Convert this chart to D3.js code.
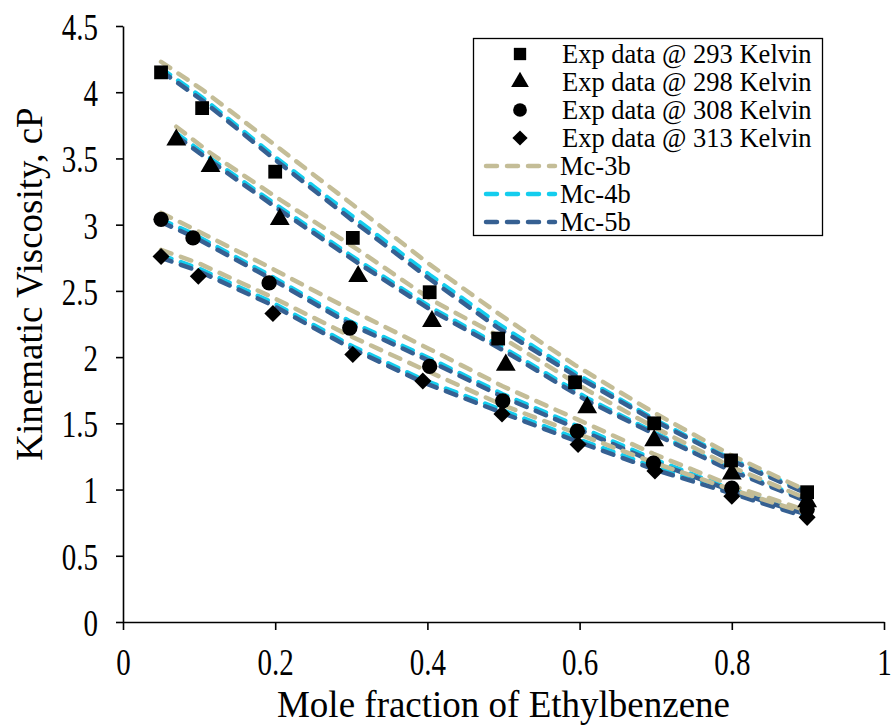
<!DOCTYPE html>
<html>
<head>
<meta charset="utf-8">
<script src="https://d3js.org/d3.v7.min.js"></script>
<style>
	body { margin: 0; background: #fff; }
	text { font-family: "Liberation Serif", "Times New Roman", serif; fill: #000; }
</style>
</head>
<body>
<script>
//wrap everything in a self-executing anonymous function to keep it local
(function(){

	//mole fraction of ethylbenzene for each temperature set
	var x293 = [0.05, 0.104, 0.2, 0.302, 0.403, 0.493, 0.594, 0.698, 0.799, 0.899];
	var x298 = [0.07, 0.115, 0.206, 0.309, 0.406, 0.503, 0.61, 0.698, 0.8, 0.899];
	var x308 = [0.05, 0.092, 0.192, 0.298, 0.403, 0.499, 0.597, 0.697, 0.8, 0.899];
	var x313 = [0.05, 0.099, 0.197, 0.302, 0.394, 0.498, 0.598, 0.699, 0.8, 0.899];

	//experimental viscosities, cP
	var exp293 = [4.15, 3.88, 3.40, 2.90, 2.49, 2.14, 1.81, 1.50, 1.22, 0.98];
	var exp298 = [3.64, 3.44, 3.04, 2.61, 2.27, 1.94, 1.62, 1.37, 1.12, 0.91];
	var exp308 = [3.04, 2.90, 2.56, 2.22, 1.93, 1.67, 1.44, 1.20, 1.01, 0.85];
	var exp313 = [2.76, 2.61, 2.33, 2.02, 1.82, 1.57, 1.34, 1.14, 0.95, 0.79];

	//model predictions, Mc-3b
	var mc3b293 = [4.23, 4.02, 3.60, 3.15, 2.70, 2.33, 1.94, 1.58, 1.26, 0.99];
	var mc3b298 = [3.74, 3.54, 3.19, 2.81, 2.43, 2.13, 1.75, 1.47, 1.17, 0.93];
	var mc3b308 = [3.09, 2.97, 2.68, 2.36, 2.06, 1.78, 1.53, 1.27, 1.03, 0.84];
	var mc3b313 = [2.81, 2.71, 2.45, 2.15, 1.91, 1.64, 1.42, 1.20, 1.00, 0.82];

	//model predictions, Mc-4b
	var mc4b293 = [4.18, 3.96, 3.51, 3.06, 2.62, 2.25, 1.88, 1.53, 1.23, 0.98];
	var mc4b298 = [3.69, 3.50, 3.13, 2.73, 2.37, 2.06, 1.69, 1.43, 1.15, 0.92];
	var mc4b308 = [3.04, 2.93, 2.62, 2.27, 1.99, 1.72, 1.48, 1.23, 1.00, 0.82];
	var mc4b313 = [2.77, 2.67, 2.41, 2.08, 1.83, 1.60, 1.38, 1.17, 0.98, 0.80];

	//model predictions, Mc-5b
	var mc5b293 = [4.16, 3.94, 3.49, 3.03, 2.59, 2.22, 1.86, 1.52, 1.22, 0.97];
	var mc5b298 = [3.67, 3.48, 3.11, 2.71, 2.35, 2.04, 1.67, 1.42, 1.14, 0.91];
	var mc5b308 = [3.02, 2.91, 2.60, 2.25, 1.97, 1.70, 1.46, 1.21, 0.99, 0.81];
	var mc5b313 = [2.75, 2.65, 2.39, 2.06, 1.81, 1.58, 1.36, 1.15, 0.97, 0.79];

	//axis ticks
	var xTicks = [0, 0.2, 0.4, 0.6, 0.8, 1];
	var yTicks = [0, 0.5, 1, 1.5, 2, 2.5, 3, 3.5, 4, 4.5];

	//legend labels
	var expLabels = ["Exp data @ 293 Kelvin", "Exp data @ 298 Kelvin", "Exp data @ 308 Kelvin", "Exp data @ 313 Kelvin"];
	var modelLabels = ["Mc-3b", "Mc-4b", "Mc-5b"];
	var modelColors = ["#c4bd97", "#14cdee", "#366092"];
	//diamond is a square turned 45 degrees
	var symbols = [d3.symbolSquare, d3.symbolTriangle, d3.symbolCircle, d3.symbolSquare];
	var symTurn = [0, 0, 0, 45];
	var symSizes = [190, 170, 185, 145];

	var width = 891,
		height = 727;

	var svg = d3.select("body")
		.append("svg")
		.attr("width", width)
		.attr("height", height);

	var x = d3.scaleLinear().domain([0, 1]).range([123, 884]);
	var y = d3.scaleLinear().domain([0, 4.5]).range([622, 26]);

	//axes
	var xAxis = svg.append("g")
		.attr("transform", "translate(0," + y(0) + ")")
		.call(d3.axisBottom(x).tickValues(xTicks).tickSize(8).tickSizeOuter(0).tickFormat(d3.format("")));
	var yAxis = svg.append("g")
		.attr("transform", "translate(" + x(0) + ",0)")
		.call(d3.axisLeft(y).tickValues(yTicks).tickSize(7).tickSizeOuter(0).tickFormat(d3.format("")));

	svg.selectAll(".domain, .tick line").attr("stroke", "#000").attr("stroke-width", 1.6);

	//tick labels in the reference look vertically stretched
	xAxis.selectAll("text")
		.attr("font-size", 29)
		.attr("font-family", "Liberation Serif")
		.attr("y", 0)
		.attr("dy", "0.35em")
		.attr("transform", "translate(0,40) scale(1,1.32)");
	yAxis.selectAll("text")
		.attr("font-size", 29)
		.attr("font-family", "Liberation Serif")
		.attr("x", 0)
		.attr("dy", "0.35em")
		.attr("transform", "translate(-25,0) scale(1,1.32)");

	//axis titles
	svg.append("text")
		.attr("x", (x(0) + x(1)) / 2)
		.attr("y", 717)
		.attr("text-anchor", "middle")
		.attr("font-size", 37)
		.text("Mole fraction of Ethylbenzene");
	svg.append("text")
		.attr("transform", "translate(42,284) rotate(-90)")
		.attr("text-anchor", "middle")
		.attr("font-size", 37)
		.text("Kinematic Viscosity, cP");

	//model curves
	var groups = [
		{xs: x293, models: [mc3b293, mc4b293, mc5b293]},
		{xs: x298, models: [mc3b298, mc4b298, mc5b298]},
		{xs: x308, models: [mc3b308, mc4b308, mc5b308]},
		{xs: x313, models: [mc3b313, mc4b313, mc5b313]}
	];

	var line = d3.line()
		.x(function(d){ return x(d[0]); })
		.y(function(d){ return y(d[1]); });

	//draw order: cyan, dark blue, tan
	[1, 2, 0].forEach(function(m){
		groups.forEach(function(g){
			svg.append("path")
				.datum(d3.zip(g.xs, g.models[m]))
				.attr("d", line)
				.attr("fill", "none")
				.attr("stroke", modelColors[m])
				.attr("stroke-width", 4.5)
				.attr("stroke-linecap", "round")
				.attr("stroke-dasharray", "11,10");
		});
	});

	//experimental markers
	var expSets = [[x293, exp293], [x298, exp298], [x308, exp308], [x313, exp313]];
	expSets.forEach(function(s, i){
		svg.selectAll(".m" + i)
			.data(d3.zip(s[0], s[1]))
			.enter()
			.append("path")
			.attr("class", "m" + i)
			.attr("d", d3.symbol().type(symbols[i]).size(symSizes[i]))
			.attr("transform", function(d){
				return "translate(" + x(d[0]) + "," + y(d[1]) + ") rotate(" + symTurn[i] + ")";
			})
			.attr("fill", "#000");
	});

	//legend
	var legend = svg.append("g");
	legend.append("rect")
		.attr("x", 473.5).attr("y", 38.5)
		.attr("width", 349).attr("height", 197)
		.attr("fill", "#fff")
		.attr("stroke", "#000")
		.attr("stroke-width", 1.3);

	var rowY = d3.scaleLinear().domain([0, 6]).range([54, 222]);

	expLabels.forEach(function(t, i){
		legend.append("path")
			.attr("d", d3.symbol().type(symbols[i]).size(symSizes[i] * 0.8))
			.attr("transform", "translate(520," + rowY(i) + ") rotate(" + symTurn[i] + ")")
			.attr("fill", "#000");
		legend.append("text")
			.attr("x", 562).attr("y", rowY(i))
			.attr("dy", "0.35em")
			.attr("font-size", 26.5)
			.text(t);
	});
	modelLabels.forEach(function(t, i){
		legend.append("line")
			.attr("x1", 486).attr("x2", 555)
			.attr("y1", rowY(i + 4)).attr("y2", rowY(i + 4))
			.attr("stroke", modelColors[i])
			.attr("stroke-width", 4.5)
			.attr("stroke-linecap", "round")
			.attr("stroke-dasharray", "11,10");
		legend.append("text")
			.attr("x", 560).attr("y", rowY(i + 4))
			.attr("dy", "0.35em")
			.attr("font-size", 26.5)
			.text(t);
	});

})();
</script>
</body>
</html>
